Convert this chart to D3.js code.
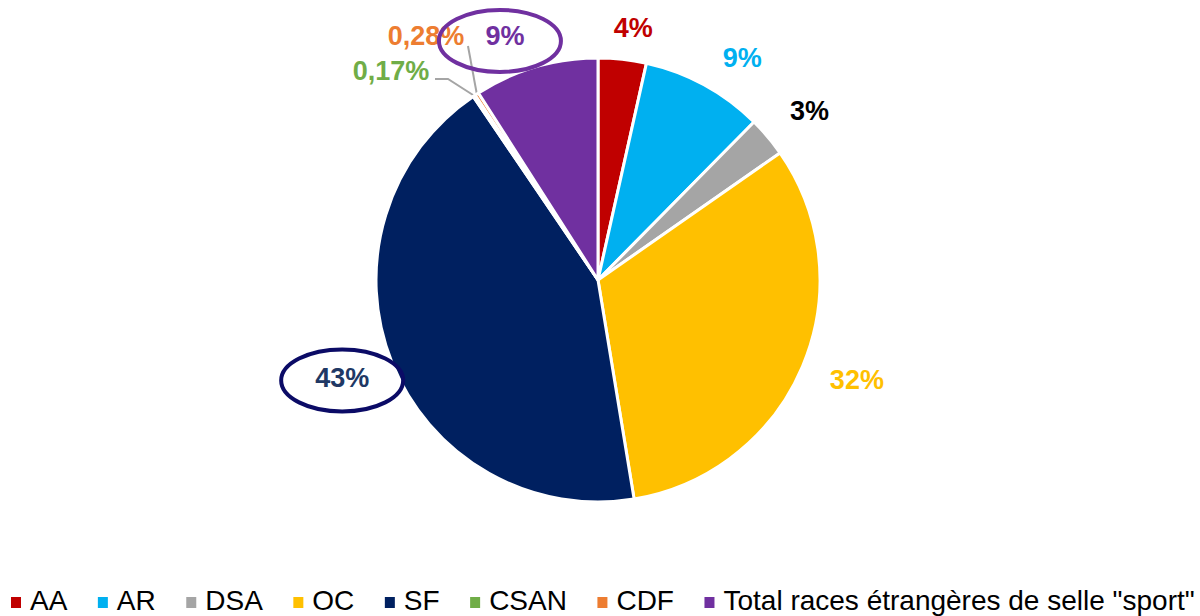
<!DOCTYPE html>
<html>
<head>
<meta charset="utf-8">
<script src="https://cdn.jsdelivr.net/npm/d3@7/dist/d3.min.js"></script>
<style>
  html, body { margin: 0; padding: 0; background: #ffffff; }
  svg { display: block; font-family: "Liberation Sans", Arial, sans-serif; }
</style>
</head>
<body>
<svg id="chart" width="1200" height="616"></svg>
<script>
// ---- data ----
const categories = ["AA", "AR", "DSA", "OC", "SF", "CSAN", "CDF", "Total races étrangères de selle \"sport\""];
const shares = [3.5, 8.9, 2.9, 32.1, 43.1, 0.17, 0.28, 9.05];
const labels = ["4%", "9%", "3%", "32%", "43%", "0,17%", "0,28%", "9%"];
const colors = ["#C00000", "#00B0F0", "#A5A5A5", "#FFC000", "#002060", "#70AD47", "#ED7D31", "#7030A0"];
const labelColors = ["#C00000", "#00B0F0", "#000000", "#FFC000", "#203864", "#70AD47", "#ED7D31", "#7030A0"];
const highlighted = [4, 7];            // labels circled in the reference

// ---- layout ----
const cx = 598, cy = 280, R = 222;
const labelFont = 27, legendFont = 28;
// hand-placed label nudges (as in the reference, labels were dragged slightly)
const labelNudge = { 0: [7, 4], 1: [18, 9], 2: [8, 3], 3: [7, -6], 4: [-2, -3], 7: [-20, 6] };
// manual placements for tiny slices (leader lines)
const leaderLayout = {
  5: { text: [391, 71], bend: [448, 79], end: [435, 79] },
  6: { text: [426, 36], bend: [468, 46], end: [468, 46] }
};
const highlightStyle = {
  4: { color: "#0B0B66", dx: 0, dy: 2 },
  7: { color: "#7030A0", dx: -5, dy: 5 }
};

const svg = d3.select("#chart");
const data = categories.map((c, i) => ({ cat: c, value: shares[i], label: labels[i], i }));

const pie = d3.pie().value(d => d.value).sort(null);
const arcs = pie(data);
const arc = d3.arc().innerRadius(0).outerRadius(R);

const g = svg.append("g").attr("transform", `translate(${cx},${cy})`);
g.selectAll("path.slice").data(arcs).enter().append("path")
  .attr("class", "slice")
  .attr("d", arc)
  .attr("fill", d => colors[d.data.i])
  .attr("stroke", "#ffffff")
  .attr("stroke-width", 3)
  .attr("stroke-linejoin", "round");

// ---- labels ----
const lblG = svg.append("g");
arcs.forEach(a => {
  const i = a.data.i;
  const mid = (a.startAngle + a.endAngle) / 2;
  const s = Math.sin(mid), c = Math.cos(mid);
  let x, y;
  const t = lblG.append("text")
    .text(a.data.label)
    .attr("font-size", labelFont)
    .attr("font-weight", "bold")
    .attr("fill", labelColors[i])
    .attr("text-anchor", "middle")
    .attr("dominant-baseline", "central");
  if (leaderLayout[i]) {
    const L = leaderLayout[i];
    [x, y] = L.text;
    const ex = cx + R * s, ey = cy - R * c;
    svg.insert("polyline", "g")
      .attr("points", [[ex, ey], L.bend, L.end].map(p => p.join(",")).join(" "))
      .attr("fill", "none")
      .attr("stroke", "#A5A5A5")
      .attr("stroke-width", 2);
  } else {
    const w = t.node().getComputedTextLength();
    const h = labelFont * 0.85;
    const d = R + 22 + Math.abs(w / 2 * s) + Math.abs(h / 2 * c);
    const n = labelNudge[i] || [0, 0];
    x = cx + d * s + n[0];
    y = cy - d * c + n[1];
  }
  t.attr("x", x).attr("y", y);
  a.labelPos = [x, y];
});

// ---- highlight ellipses ----
highlighted.forEach(i => {
  const [x, y] = arcs[i].labelPos;
  const st = highlightStyle[i];
  svg.append("ellipse")
    .attr("cx", x + st.dx)
    .attr("cy", y + st.dy)
    .attr("rx", 61)
    .attr("ry", 31)
    .attr("fill", "none")
    .attr("stroke", st.color)
    .attr("stroke-width", 4);
});

// ---- legend ----
const leg = svg.append("g");
let lx = 11;
const baseY = 610;
categories.forEach((c, i) => {
  leg.append("rect")
    .attr("x", lx).attr("y", 597)
    .attr("width", 10).attr("height", 11)
    .attr("fill", colors[i]);
  const t = leg.append("text")
    .attr("x", lx + 19).attr("y", baseY)
    .attr("font-size", legendFont)
    .attr("fill", "#000000")
    .text(c);
  lx = lx + 19 + t.node().getComputedTextLength() + 30.5;
});
</script>
</body>
</html>
